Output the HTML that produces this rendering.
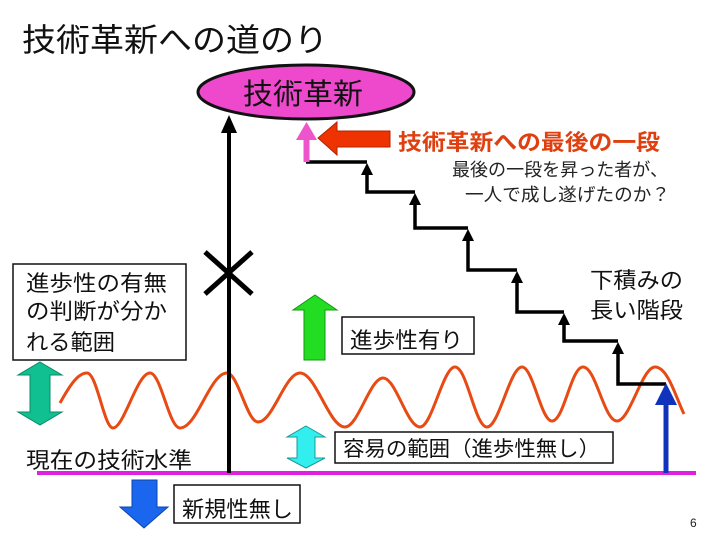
<!DOCTYPE html>
<html><head><meta charset="utf-8"><style>
html,body{margin:0;padding:0;background:#fff;width:720px;height:540px;overflow:hidden}
svg{display:block}
text{font-family:"Liberation Sans","Noto Sans CJK JP",sans-serif;fill:#111}
</style></head><body>
<svg width="720" height="540" viewBox="0 0 720 540" xmlns="http://www.w3.org/2000/svg">
<rect width="720" height="540" fill="#fff"/>
<!-- title -->
<text x="22" y="51" font-size="32" textLength="306" lengthAdjust="spacingAndGlyphs">技術革新への道のり</text>

<!-- ellipse -->
<ellipse cx="306" cy="92" rx="108" ry="27" fill="#ee48cc" stroke="#111" stroke-width="3"/>
<text x="243" y="104" font-size="29" textLength="120" lengthAdjust="spacingAndGlyphs">技術革新</text>

<!-- wave -->
<path d="M60,403 C70,385 78,373 87,373 C97,373 104,428 113,428 C124,428 137,373 150,373 C161,373 169,428 180,428 C197,428 210,373 227,373 C238,373 247,422 258,422 C273,422 285,373 300,373 C316,373 329,427 345,427 C358,427 370,378 383,378 C396,378 407,427 420,427 C432,427 443,367 455,367 C467,367 475,427 487,427 C499,427 510,367 522,367 C533,367 541,421 552,421 C564,421 571,367 583,367 C596,367 604,421 617,421 C630,421 642,367 655,367 C668,367 676,398 684,414" fill="none" stroke="#e84a14" stroke-width="3"/>

<!-- magenta baseline -->
<line x1="37" y1="473" x2="696" y2="473" stroke="#e020e0" stroke-width="4"/>

<!-- main black vertical arrow -->
<line x1="229" y1="130" x2="229" y2="473" stroke="#000" stroke-width="4"/>
<polygon points="229,115 237,133 221,133" fill="#000"/>

<!-- X mark -->
<line x1="205" y1="252" x2="252" y2="294" stroke="#000" stroke-width="5"/>
<line x1="252" y1="252" x2="205" y2="294" stroke="#000" stroke-width="5"/>

<!-- staircase -->
<polyline points="306,162 367,162" fill="none" stroke="#000" stroke-width="3.5"/>
<polyline points="367,172 367,192 415,192" fill="none" stroke="#000" stroke-width="3.5"/>
<polyline points="415,202 415,228 468,228" fill="none" stroke="#000" stroke-width="3.5"/>
<polyline points="468,238 468,270 517,270" fill="none" stroke="#000" stroke-width="3.5"/>
<polyline points="517,280 517,312 564,312" fill="none" stroke="#000" stroke-width="3.5"/>
<polyline points="564,322 564,341 618,341" fill="none" stroke="#000" stroke-width="3.5"/>
<polyline points="618,351 618,384 666,384" fill="none" stroke="#000" stroke-width="3.5"/>
<polygon points="367,163 373,175 361,175" fill="#000"/>
<polygon points="415,193 421,205 409,205" fill="#000"/>
<polygon points="468,229 474,241 462,241" fill="#000"/>
<polygon points="517,271 523,283 511,283" fill="#000"/>
<polygon points="564,313 570,325 558,325" fill="#000"/>
<polygon points="618,342 624,354 612,354" fill="#000"/>

<!-- blue up arrow -->
<rect x="663.5" y="403" width="5" height="70" fill="#1133bb"/>
<polygon points="666,383 677,405 655,405" fill="#1133bb"/>

<!-- pink arrow -->
<rect x="303.5" y="138" width="6" height="24" fill="#ee55cc"/>
<polygon points="306.5,122 317,140 296,140" fill="#ee55cc"/>

<!-- red left arrow -->
<polygon points="318,138 337,122 337,131 390,131 390,147 337,147 337,155" fill="#ee3300" stroke="#b02200" stroke-width="1"/>
<text x="398" y="150" font-size="22" font-weight="bold" style="fill:#e04010" textLength="262" lengthAdjust="spacingAndGlyphs">技術革新への最後の一段</text>
<text x="452" y="176" font-size="18" style="fill:#222" textLength="216" lengthAdjust="spacingAndGlyphs">最後の一段を昇った者が、</text>
<text x="465" y="201" font-size="18" style="fill:#222" textLength="205" lengthAdjust="spacingAndGlyphs">一人で成し遂げたのか？</text>

<!-- box top-left -->
<rect x="13" y="264" width="173" height="96" fill="#fff" stroke="#111" stroke-width="1.5"/>
<text x="26" y="291" font-size="22" textLength="141" lengthAdjust="spacingAndGlyphs">進歩性の有無</text>
<text x="26" y="319" font-size="22" textLength="141" lengthAdjust="spacingAndGlyphs">の判断が分か</text>
<text x="26" y="350" font-size="22" textLength="89" lengthAdjust="spacingAndGlyphs">れる範囲</text>

<!-- teal double arrow -->
<polygon points="40,362 62,375 50,375 50,412 62,412 40,425 18,412 30,412 30,375 18,375" fill="#10c090" stroke="#0a8a66" stroke-width="1"/>

<!-- green up arrow -->
<polygon points="315,295 337,310 325,310 325,360 304,360 304,310 293,310" fill="#22dd22" stroke="#119911" stroke-width="1"/>
<rect x="342" y="317" width="132" height="37" fill="#fff" stroke="#111" stroke-width="1.5"/>
<text x="350" y="348" font-size="22" textLength="113" lengthAdjust="spacingAndGlyphs">進歩性有り</text>

<!-- 下積み -->
<text x="590" y="288" font-size="22" textLength="93" lengthAdjust="spacingAndGlyphs">下積みの</text>
<text x="590" y="318" font-size="22" textLength="93" lengthAdjust="spacingAndGlyphs">長い階段</text>

<!-- cyan double arrow -->
<polygon points="306,426 325,437 315,437 315,458 325,458 306,468 287,458 297,458 297,437 287,437" fill="#33eeee" stroke="#1a9a9a" stroke-width="1"/>
<rect x="335" y="432" width="278" height="31" fill="#fff" stroke="#111" stroke-width="1.5"/>
<text x="343" y="456" font-size="21" textLength="257" lengthAdjust="spacingAndGlyphs">容易の範囲（進歩性無し）</text>

<!-- 現在の技術水準 -->
<text x="26" y="468" font-size="22" textLength="166" lengthAdjust="spacingAndGlyphs">現在の技術水準</text>

<!-- blue down arrow -->
<polygon points="132,480 157,480 157,507 168,507 144,528 120,507 132,507" fill="#1a66ee" stroke="#0d44aa" stroke-width="1"/>
<rect x="174" y="485" width="126" height="38" fill="#fff" stroke="#111" stroke-width="1.5"/>
<text x="182" y="517" font-size="22" textLength="111" lengthAdjust="spacingAndGlyphs">新規性無し</text>

<!-- page number -->
<text x="690" y="527" font-size="12" style="fill:#222">6</text>
</svg>
</body></html>
